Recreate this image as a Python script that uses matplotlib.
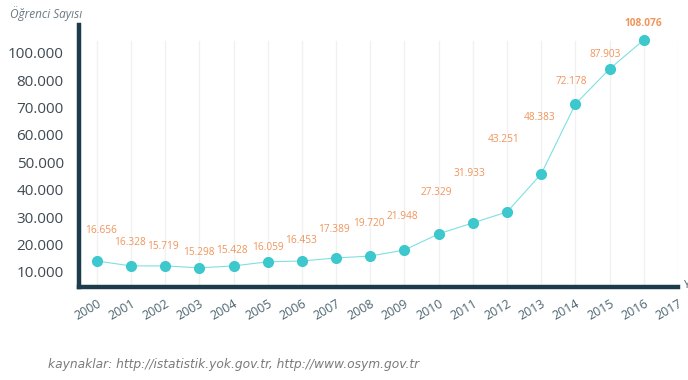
import matplotlib
matplotlib.use("Agg")
import matplotlib.pyplot as plt

# yillar ve ogrenci sayilari (etiketler)
years = list(range(2000, 2017))
labels = ["16.656", "16.328", "15.719", "15.298", "15.428", "16.059", "16.453",
          "17.389", "19.720", "21.948", "27.329", "31.933", "43.251", "48.383",
          "72.178", "87.903", "108.076"]
# noktalarin grafikteki yuksekligi
points = [14000, 12200, 12200, 11500, 12200, 13700, 14000, 15100, 15800,
          18000, 23900, 27900, 31900, 45800, 71300, 84100, 94700]

xtick_years = list(range(2000, 2018))
ytick_vals = [10000, 20000, 30000, 40000, 50000, 60000, 70000, 80000, 90000]
ytick_labels = ["10.000", "20.000", "30.000", "40.000", "50.000", "60.000",
                "70.000", "80.000", "100.000"]

# etiketlerin noktaya gore kaymasi (piksel)
label_offsets = [(4, 30), (-1, 23), (-2, 19), (0, 15), (-2, 15), (0, 14), (-1, 20),
                 (-2, 28), (-1, 33), (-2, 34), (-2, 41), (-3, 49), (-3, 72),
                 (-2, 56), (-4, 22), (-4, 14), (-1, 16)]

plt.rcParams['font.family'] = ['Open Sans', 'DejaVu Sans']

fig = plt.figure(figsize=(6.88, 3.8), dpi=100)
ax = fig.add_axes([0.1148, 0.2447, 0.8707, 0.6893])

ax.plot(years, points, color='#7fe0e0', linewidth=0.8, marker='o',
        markersize=7, markerfacecolor='#3cc8cc', markeredgecolor='#3cc8cc', zorder=3)

for i in range(len(years)):
    bold = 'bold' if i == len(years) - 1 else 'normal'
    ax.annotate(labels[i], (years[i], points[i]), xytext=label_offsets[i],
                textcoords='offset pixels', ha='center', va='center',
                fontsize=7.3, color='#f0945a', fontweight=bold)

ax.set_xlim(1999.48, 2016.7)
ax.set_ylim(4500, 100100)
ax.set_xticks(xtick_years)
ax.set_xticklabels([str(y) for y in xtick_years], rotation=30, ha='right',
                   rotation_mode='anchor', fontsize=9, color='#4d6470')
ax.set_yticks(ytick_vals)
ax.set_yticklabels(ytick_labels, fontsize=11, color='#3f4a52')
ax.tick_params(axis='both', length=0)
ax.tick_params(axis='y', pad=11)
ax.tick_params(axis='x', pad=7)

for y in xtick_years:
    ax.axvline(y, ymin=0, ymax=0.94, color='#f1f1f1', linewidth=1, zorder=0)

for s in ['top', 'right']:
    ax.spines[s].set_visible(False)
for s in ['left', 'bottom']:
    ax.spines[s].set_color('#1d3c4b')
    ax.spines[s].set_linewidth(3.2)
    ax.spines[s].set_capstyle('projecting')

fig.text(0.014, 0.965, "Öğrenci Sayısı", fontsize=8.5, color='#6a7a84',
         style='italic', ha='left', va='center')
fig.text(0.993, 0.25, "Yıl", fontsize=8, color='#4d6470', ha='left', va='center')
fig.text(0.07, 0.04, "kaynaklar: http://istatistik.yok.gov.tr, http://www.osym.gov.tr",
         fontsize=8.8, color='#7a7a7a', style='italic', family='DejaVu Sans',
         ha='left', va='center')

fig.savefig("out.png", dpi=100)
